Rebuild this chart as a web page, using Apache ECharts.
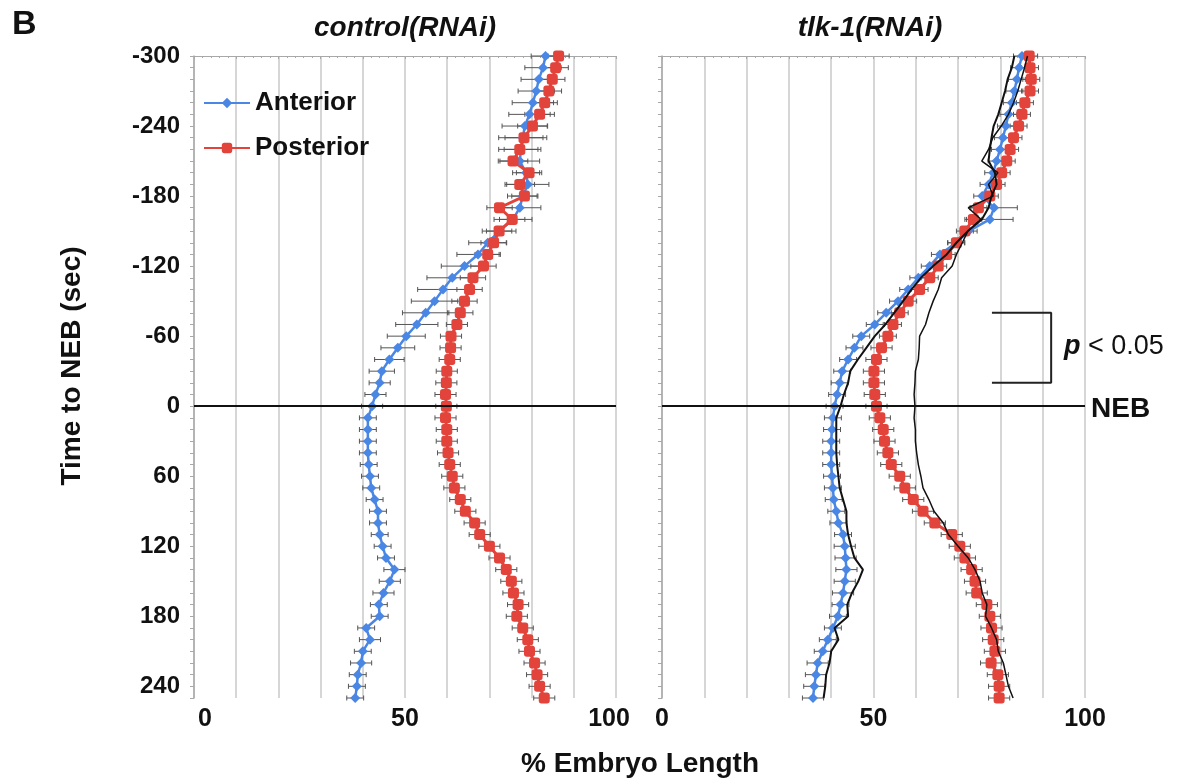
<!DOCTYPE html>
<html><head><meta charset="utf-8">
<script src="https://cdn.jsdelivr.net/npm/echarts@6/dist/echarts.min.js"></script>
<style>html,body{margin:0;padding:0;background:#fff}#c{width:1180px;height:784px}</style>
</head><body><div id="c"></div>
<script>
// Time to NEB (sec), one sample every 10 s
const times = [-300,-290,-280,-270,-260,-250,-240,-230,-220,-210,-200,-190,-180,-170,-160,-150,-140,-130,-120,-110,-100,-90,-80,-70,-60,-50,-40,-30,
  -20,-10,0,10,20,30,40,50,60,70,80,90,100,110,120,130,140,150,160,170,180,190,200,210,220,230,240,250];
const yTickLabels = [-300,-240,-180,-120,-60,0,60,120,180,240];
const xTickLabels = [0,50,100];

// control(RNAi)
const ctrlAnterior = [83.3,82.7,81.7,81.1,80.3,79.5,78.4,77.9,77.5,77.2,78.7,79.1,77.9,77.2,75.6,72.3,69.6,67.3,64.1,61.2,59.0,57.0,54.9,52.8,50.3,48.3,46.3,44.5,
  44.0,43.0,42.2,41.2,41.2,41.2,41.2,41.4,41.7,42.0,42.8,43.6,43.6,44.0,44.7,45.5,47.5,46.4,44.9,43.8,44.0,40.8,41.7,40.0,39.6,38.8,38.6,38.2];
const ctrlAnteriorErr = [3.4,4.3,4.2,4.3,4.9,4.9,5.4,5.7,4.0,4.7,3.2,5.0,3.6,5.0,4.5,4.0,4.5,5.0,5.5,6.0,6.0,5.5,5.5,5.0,4.5,4.0,3.5,3.0,
  2.5,2.5,2.5,2.0,2.0,2.0,2.0,2.0,2.0,2.0,2.0,2.0,2.0,2.0,2.0,2.0,2.5,2.5,2.5,2.0,2.0,2.0,2.5,2.0,2.5,2.0,2.0,2.0];
const ctrlPosterior = [86.4,85.7,84.9,84.1,83.1,81.9,80.2,78.2,77.2,75.6,79.4,77.2,78.3,72.4,75.4,72.3,71.0,69.6,68.6,66.1,65.3,64.1,63.1,62.3,60.9,60.8,60.6,59.9,
  59.8,59.6,59.8,59.6,59.9,59.9,60.2,60.6,61.2,61.7,63.1,64.3,66.5,67.7,70.0,72.4,74.0,75.2,75.7,76.8,76.5,77.9,79.1,79.5,80.7,81.3,81.9,83.0];
const ctrlPosteriorErr = [2.5,3.0,3.0,3.0,3.0,3.5,3.5,4.5,5.0,3.5,3.0,3.5,3.0,3.0,3.0,3.0,3.0,3.0,3.0,3.0,3.0,3.0,3.0,2.5,2.5,2.5,2.5,2.5,
  2.5,2.5,2.5,2.5,2.5,2.5,2.5,2.5,2.5,2.5,2.5,2.5,2.5,2.5,2.5,2.5,2.5,2.5,2.5,2.5,2.5,2.5,2.5,2.5,2.5,2.5,2.5,2.5];

// tlk-1(RNAi)
const tlkAnterior = [85.1,84.4,83.9,83.3,82.7,81.9,81.3,80.6,79.9,79.1,78.3,77.2,75.7,78.5,77.5,72.5,69.5,65.7,63.3,60.6,58.2,55.8,53.0,50.3,47.1,45.5,44.0,42.6,
  42.0,41.4,40.8,40.4,40.2,40.0,40.0,40.0,40.2,40.4,40.6,41.2,41.7,42.8,43.2,43.4,43.6,43.2,42.8,42.2,41.6,40.4,39.2,38.0,36.8,36.4,36.0,35.7];
const tlkAnteriorErr = [2.0,2.0,2.0,2.0,2.0,2.0,2.0,2.0,2.0,2.0,2.0,2.0,2.0,5.5,5.5,2.0,2.0,2.0,2.0,2.0,2.0,2.0,2.0,2.0,2.0,2.0,2.0,2.0,
  2.0,2.0,2.0,2.0,2.0,2.0,2.0,2.0,2.0,2.0,2.0,2.0,2.0,2.0,2.5,2.5,2.5,2.5,2.5,2.0,2.0,2.0,2.0,2.0,2.5,2.5,2.5,2.5];
const tlkPosterior = [86.8,87.0,87.3,87.0,85.8,85.1,84.3,83.1,82.3,81.5,80.3,79.1,77.5,74.8,73.6,71.6,69.6,67.3,65.3,63.3,60.9,58.2,56.2,54.6,53.4,51.9,50.7,50.1,
  50.1,50.3,50.7,51.5,52.3,52.6,53.4,54.2,56.2,57.4,59.4,61.7,64.5,68.5,70.4,71.6,73.2,74.0,74.4,76.8,77.5,77.9,78.3,78.7,77.8,79.4,79.7,79.7];
const tlkPosteriorErr = [2.0,2.0,2.0,2.0,2.0,2.0,2.0,2.0,2.0,2.0,2.0,2.0,2.0,2.0,2.0,2.0,2.0,2.0,2.0,2.0,2.0,2.0,2.0,2.0,2.0,2.5,2.5,2.5,
  2.5,2.5,2.5,2.5,2.5,2.5,2.5,2.5,2.5,2.5,2.5,2.5,2.5,2.5,2.5,2.5,2.5,2.5,2.5,2.5,2.5,2.5,2.5,2.5,2.5,2.5,2.5,2.5];

// significance bracket (x in % length, y in sec)
const bracketX = [78, 92];
const bracketT = [-80, -20];

const FONT = '"Liberation Sans", Arial, Helvetica, sans-serif';
const BLUE = '#4a86e3', RED = '#e2433b', ERR = '#555555', GRIDC = '#c8c8c8', AXC = '#a8a8a8';

function pts(vals){ return times.map((t,i)=>[vals[i], t]); }
function errSeries(xi, yi, vals, errs){
  return {
    type:'custom', xAxisIndex:xi, yAxisIndex:yi, z:1, silent:true,
    data: times.map((t,i)=>[vals[i], t, errs[i]]),
    encode:{x:0, y:1},
    renderItem(params, api){
      const v = api.value(0), t = api.value(1), e = api.value(2);
      const a = api.coord([v-e, t]), b = api.coord([v+e, t]);
      const cap = 2.5, st = {stroke:ERR, lineWidth:1};
      return {type:'group', children:[
        {type:'line', shape:{x1:a[0],y1:a[1],x2:b[0],y2:b[1]}, style:st},
        {type:'line', shape:{x1:a[0],y1:a[1]-cap,x2:a[0],y2:a[1]+cap}, style:st},
        {type:'line', shape:{x1:b[0],y1:b[1]-cap,x2:b[0],y2:b[1]+cap}, style:st}
      ]};
    }
  };
}
function lineSeries(xi, yi, name, vals, color, symbol, size, width, withNEB){
  const s = {
    type:'line', name, xAxisIndex:xi, yAxisIndex:yi, z:3,
    data: pts(vals), symbol, symbolSize:size, showSymbol:true,
    itemStyle:{color}, lineStyle:{color, width}, animation:false
  };
  if (withNEB) s.markLine = {silent:true, symbol:['none','none'], label:{show:false},
    lineStyle:{color:'#111', width:2, type:'solid'}, data:[{yAxis:0}]};
  return s;
}

const grids = [
  {left:194, top:56, width:422, height:642},
  {left:662, top:56, width:423, height:642}
];
const labelFont = {color:'#111', fontFamily:FONT, fontWeight:'bold', fontSize:25};
const xAxes = [], yAxes = [];
[0,1].forEach(g=>{
  xAxes.push({type:'value', gridIndex:g, min:0, max:100, interval:10, position:'bottom',
    axisLine:{show:false}, axisTick:{show:false},
    splitLine:{show:true, lineStyle:{color:GRIDC, width:1.5}},
    axisLabel:Object.assign({margin:9,
      formatter:v=> {
        if (!xTickLabels.includes(v)) return '';
        if (g===0 && v===0) return '{l|' + v + '}';
        if (g===0 && v===100) return '{r|' + v + '}';
        return '{n|' + v + '}';
      },
      rich:{l:Object.assign({padding:[0,0,0,22]}, labelFont), r:Object.assign({padding:[0,14,0,0]}, labelFont), n:labelFont}
    }, labelFont)});
  xAxes.push({type:'value', gridIndex:g, min:0, max:100, interval:10, position:'top',
    axisLine:{show:true, lineStyle:{color:AXC, width:1}},
    axisTick:{show:true, inside:true, length:3, lineStyle:{color:AXC}},
    minorTick:{show:true, splitNumber:5, length:2, lineStyle:{color:AXC}},
    splitLine:{show:false}, axisLabel:{show:false}});
  yAxes.push({type:'value', gridIndex:g, min:-300, max:250, interval:60, inverse:true,
    axisLine:{show:true, lineStyle:{color:AXC, width:1.5}},
    axisTick:{show:true, length:4, lineStyle:{color:AXC}},
    minorTick:{show:true, splitNumber:6, length:4, lineStyle:{color:AXC}},
    splitLine:{show:false},
    axisLabel:{show:g===0, margin:14, color:'#111', fontFamily:FONT, fontWeight:'bold', fontSize:24,
      showMaxLabel:false, formatter:v=> yTickLabels.includes(v) ? String(v) : ''}});
});
// xAxes order: [g0 bottom, g0 top, g1 bottom, g1 top]
const X0 = 0, X1 = 2;

const series = [
  errSeries(X0, 0, ctrlAnterior, ctrlAnteriorErr),
  errSeries(X0, 0, ctrlPosterior, ctrlPosteriorErr),
  lineSeries(X0, 0, 'Anterior', ctrlAnterior, BLUE, 'diamond', 10, 2.5, false),
  lineSeries(X0, 0, 'Posterior', ctrlPosterior, RED, 'roundRect', 11, 3, true),
  errSeries(X1, 1, tlkAnterior, tlkAnteriorErr),
  errSeries(X1, 1, tlkPosterior, tlkPosteriorErr),
  lineSeries(X1, 1, 'Anterior', tlkAnterior, BLUE, 'diamond', 10, 2.5, false),
  lineSeries(X1, 1, 'Posterior', tlkPosterior, RED, 'roundRect', 11, 3, true),
  {type:'line', xAxisIndex:X1, yAxisIndex:1, z:5, silent:true, symbol:'none', data:pts(ctrlAnterior),
    lineStyle:{color:'#111', width:2}, animation:false},
  {type:'line', xAxisIndex:X1, yAxisIndex:1, z:5, silent:true, symbol:'none', data:pts(ctrlPosterior),
    lineStyle:{color:'#111', width:1.5}, animation:false},
  {type:'line', xAxisIndex:X1, yAxisIndex:1, z:5, silent:true, symbol:'none',
    data:[[bracketX[0],bracketT[0]],[bracketX[1],bracketT[0]],[bracketX[1],bracketT[1]],[bracketX[0],bracketT[1]]],
    lineStyle:{color:'#222', width:2}, animation:false}
];

const chart = echarts.init(document.getElementById('c'));
chart.setOption({
  backgroundColor:'#fff',
  animation:false,
  grid: grids,
  xAxis: xAxes,
  yAxis: yAxes,
  legend:{data:['Anterior','Posterior'], orient:'vertical', left:203, top:90, padding:0, itemWidth:46, itemHeight:13, itemGap:19,
    textStyle:{fontFamily:FONT, fontWeight:'bold', fontSize:26, color:'#111'}, selectedMode:false},
  series,
  graphic:[
    {type:'text', x:12, y:8, style:{text:'B', fontFamily:FONT, fontWeight:'bold', fontSize:34, fill:'#111'}},
    {type:'text', x:405, y:28, style:{text:'control(RNAi)', fontFamily:FONT, fontWeight:'bold', fontStyle:'italic', fontSize:28, fill:'#111', align:'center', verticalAlign:'middle'}},
    {type:'text', x:870, y:28, style:{text:'tlk-1(RNAi)', fontFamily:FONT, fontWeight:'bold', fontStyle:'italic', fontSize:28, fill:'#111', align:'center', verticalAlign:'middle'}},
    {type:'text', x:72, y:366, rotation:Math.PI/2, style:{text:'Time to NEB (sec)', fontFamily:FONT, fontWeight:'bold', fontSize:28, fill:'#111', align:'center', verticalAlign:'middle'}},
    {type:'text', x:640, y:764, style:{text:'% Embryo Length', fontFamily:FONT, fontWeight:'bold', fontSize:28, fill:'#111', align:'center', verticalAlign:'middle'}},
    {type:'text', x:1091, y:409, style:{text:'NEB', fontFamily:FONT, fontWeight:'bold', fontSize:28, fill:'#111', align:'left', verticalAlign:'middle'}},
    {type:'text', x:1064, y:347, style:{text:'{p|p} < 0.05', fontFamily:FONT, fontSize:27, fill:'#111', align:'left', verticalAlign:'middle',
      rich:{p:{fontFamily:FONT, fontSize:27, fontStyle:'italic', fontWeight:'bold', fill:'#111'}}}}
  ]
});
</script></body></html>
